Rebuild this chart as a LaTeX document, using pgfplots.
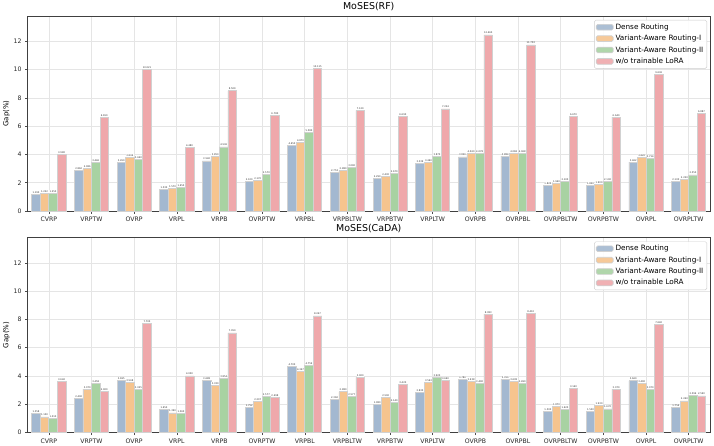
\documentclass[border=0pt]{standalone}
\usepackage{fontspec}
\setmainfont{DejaVu Sans}
\usepackage{pgfplots}
\usepackage{pgfplotstable}
\pgfplotsset{compat=1.18}

\definecolor{cdense}{RGB}{163,184,208}
\definecolor{cvar1}{RGB}{246,196,142}
\definecolor{cvar2}{RGB}{168,210,162}
\definecolor{cnolora}{RGB}{239,168,171}

% gap (%) per problem variant, RF backbone
\pgfplotstableread{
idx dense var1  var2  nolora
0   1.190 1.222 1.250 3.980
1   2.860 2.986 3.446 6.650
2   3.450 3.804 3.640 10.021
3   1.530 1.570 1.650 4.480
4   3.540 3.850 4.536 8.509
5   2.100 2.170 2.570 6.780
6   4.650 4.870 5.580 10.115
7   2.753 2.880 3.090 7.120
8   2.290 2.430 2.670 6.690
9   3.339 3.460 3.870 7.224
10  3.826 4.060 4.078 12.460
11  3.884 4.068 4.068 11.750
12  1.820 1.940 2.100 6.670
13  1.820 1.900 2.100 6.640
14  3.462 3.820 3.714 9.636
15  2.100 2.220 2.550 6.887
}\rfdata

% gap (%) per problem variant, CaDA backbone
\pgfplotstableread{
idx dense var1  var2  nolora
0   1.358 1.100 1.010 3.640
1   2.400 3.070 3.458 2.900
2   3.695 3.568 3.025 7.700
3   1.650 1.390 1.360 4.000
4   3.688 3.330 3.854 7.050
5   1.752 2.207 2.577 2.498
6   4.700 4.347 4.759 8.247
7   2.360 2.880 2.577 3.900
8   1.980 2.500 2.140 3.420
9   2.830 3.563 3.920 3.660
10  3.780 3.638 3.490 8.383
11  3.760 3.638 3.490 8.410
12  1.500 1.870 1.620 3.140
13  1.500 1.930 1.670 3.070
14  3.660 3.490 3.070 7.640
15  1.754 2.240 2.596 2.590
}\cadadata

\pgfplotsset{
  gapaxis/.style={
    scale only axis,
    width=682.5bp, height=195bp,
    anchor=north west,
    ybar=0pt, bar width=0.2,
    xmin=-0.5, xmax=15.5,
    ymin=0, ymax=13.8,
    xtick={0,...,15},
    xticklabels={CVRP,VRPTW,OVRP,VRPL,VRPB,OVRPTW,VRPBL,VRPBLTW,VRPBTW,VRPLTW,OVRPB,OVRPBL,OVRPBLTW,OVRPBTW,OVRPL,OVRPLTW},
    ytick={0,2,...,12},
    xtick pos=bottom, ytick pos=left,
    tick align=outside,
    major tick length=2.5bp,
    tick style={black!70, line width=0.5bp},
    ticklabel style={font=\fontsize{6.2}{7}\selectfont, text=black!85},
    /pgf/number format/assume math mode=true,
    ylabel={Gap(\%)},
    ylabel style={font=\fontsize{7}{8}\selectfont, yshift=-3bp},
    title style={font=\fontsize{9.5}{11}\selectfont, yshift=-4.5bp},
    grid=major,
    major grid style={black!10, line width=0.6bp},
    axis line style={black!75, line width=0.8bp},
    legend style={at={(1,1)}, anchor=north east, xshift=-3bp, yshift=-4bp,
      font=\fontsize{7.3}{8.5}\selectfont, draw=black!20, rounded corners=1.5bp,
      fill=white, fill opacity=0.9, text opacity=1, inner sep=1.5bp,
      row sep=0.4bp},
    legend cell align=left,
    area legend,
    every axis plot/.append style={draw=black!18, line width=0.7bp},
    nodes near coords,
    nodes near coords style={font=\fontsize{2.4}{2.6}\selectfont, text=black!80,
      fill=white, inner sep=0.3pt, anchor=south, yshift=0.3bp,
      /pgf/number format/.cd, fixed, fixed zerofill, precision=3},
  }
}

\begin{document}
\begin{tikzpicture}
\path[use as bounding box] (0,0) rectangle (714bp,-446bp);

\begin{axis}[gapaxis, at={(27.5bp,-16bp)}, title={MoSES(RF)}]
\addplot[fill=cdense] table[x=idx, y=dense] {\rfdata};
\addplot[fill=cvar1] table[x=idx, y=var1] {\rfdata};
\addplot[fill=cvar2] table[x=idx, y=var2] {\rfdata};
\addplot[fill=cnolora] table[x=idx, y=nolora] {\rfdata};
\legend{Dense Routing, Variant-Aware Routing-I, Variant-Aware Routing-II, w/o trainable LoRA}
\end{axis}

\begin{axis}[gapaxis, at={(27.5bp,-237.5bp)}, title={MoSES(CaDA)}]
\addplot[fill=cdense] table[x=idx, y=dense] {\cadadata};
\addplot[fill=cvar1] table[x=idx, y=var1] {\cadadata};
\addplot[fill=cvar2] table[x=idx, y=var2] {\cadadata};
\addplot[fill=cnolora] table[x=idx, y=nolora] {\cadadata};
\legend{Dense Routing, Variant-Aware Routing-I, Variant-Aware Routing-II, w/o trainable LoRA}
\end{axis}
\end{tikzpicture}
\end{document}
